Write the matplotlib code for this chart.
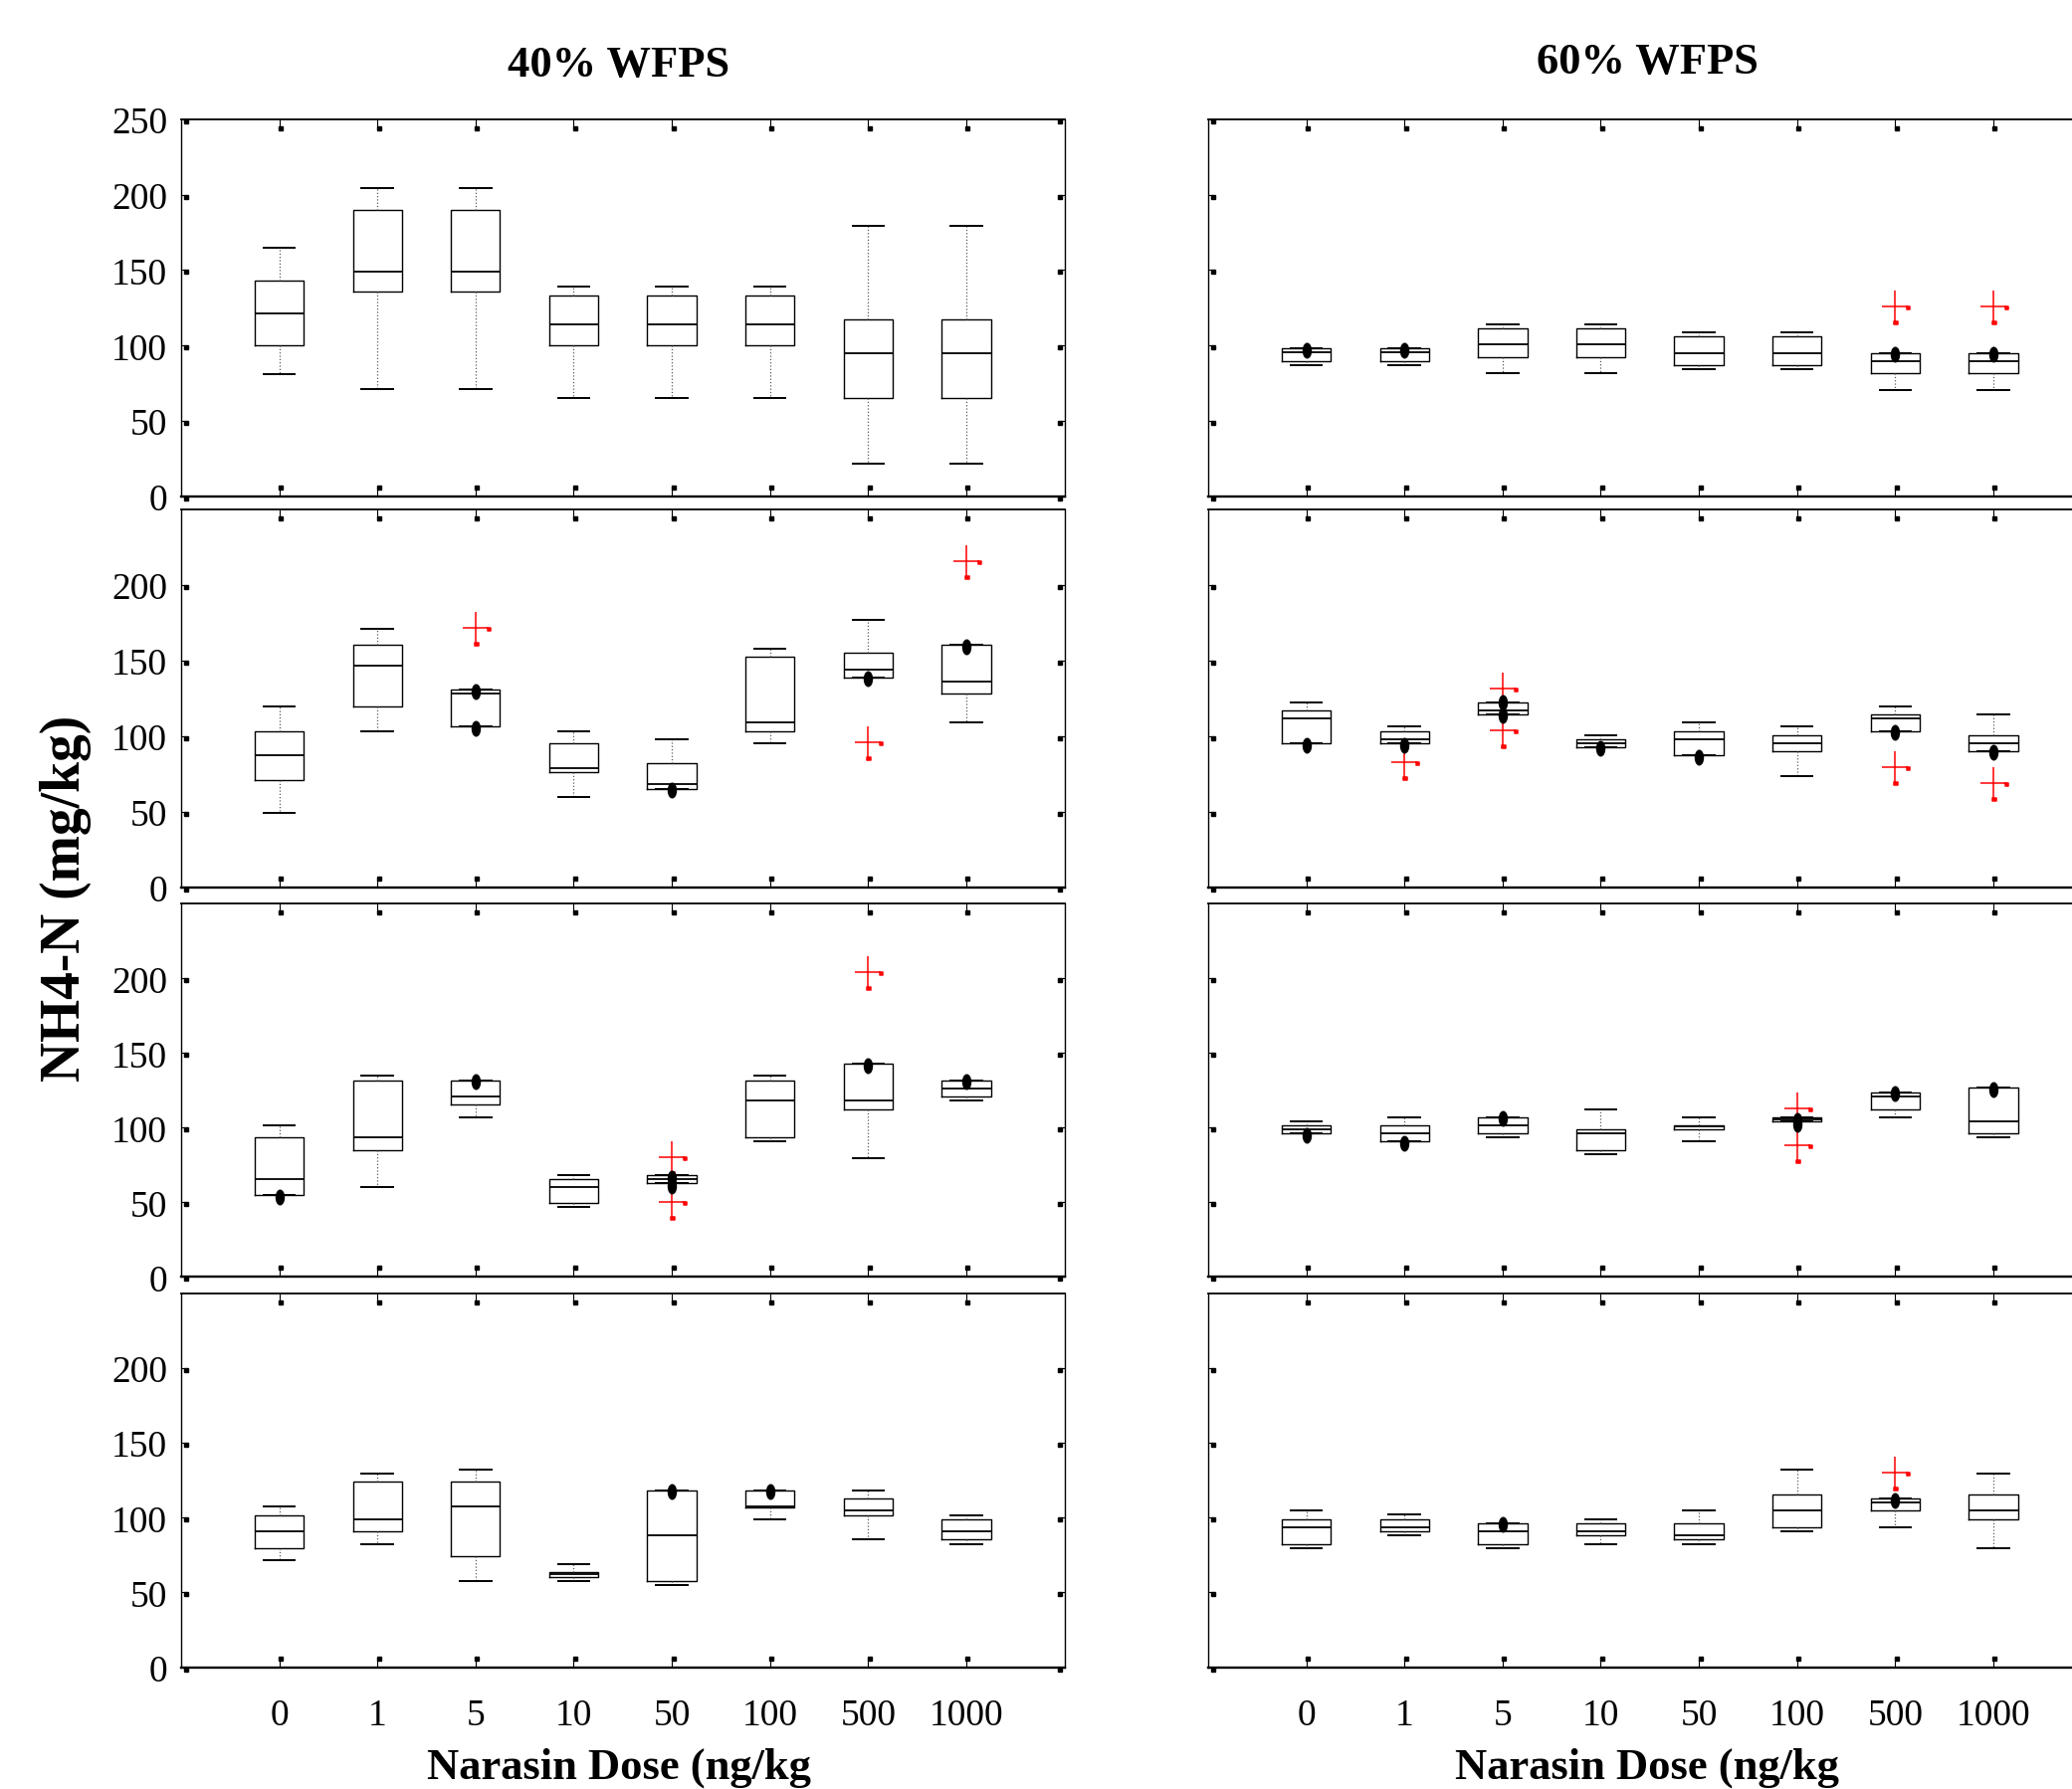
import numpy as np
import matplotlib
matplotlib.use('Agg')
import matplotlib.pyplot as plt
from matplotlib.path import Path
from matplotlib.transforms import Affine2D, ScaledTranslation

doses = ['0', '1', '5', '10', '50', '100', '500', '1000']

# each panel: whisker high, q3, median, q1, whisker low (mg/kg)
p40_1 = [[165, 204, 204, 139, 139, 139, 179, 179],
         [143, 190, 190, 133, 133, 133, 117, 117],
         [121, 149, 149, 114, 114, 114, 95, 95],
         [100, 136, 136, 100, 100, 100, 65, 65],
         [81, 71, 71, 65, 65, 65, 22, 22]]
p60_1 = [[98.3, 98.3, 114.3, 114.3, 108.8, 108.8, 95.2, 95.2],
         [98.3, 98.3, 111.5, 111.5, 106, 106, 95.2, 95.2],
         [95.4, 95.4, 100.7, 100.7, 95.2, 95.2, 89.7, 89.7],
         [89.7, 89.7, 92.3, 92.3, 86.9, 86.9, 81.6, 81.6],
         [87, 87, 81.6, 81.6, 84.4, 84.4, 70.8, 70.8]]
p40_2 = [[119.7, 171, 130.7, 103.3, 97.8, 157.7, 176.8, 160.3],
         [103.3, 160.3, 130.7, 95.2, 81.8, 152.2, 155, 160.3],
         [87.1, 146.7, 127.9, 78.9, 68, 108.8, 144, 136],
         [70.6, 119.7, 106.1, 76.1, 65.1, 103.3, 138.6, 127.9],
         [48.9, 103.3, 106.1, 59.9, 65.1, 95.2, 138.6, 108.8]]
p60_2 = [[122.4, 106.1, 122.4, 100.7, 108.8, 106.1, 119.7, 114.3],
         [116.9, 103.3, 122.4, 97.8, 103.3, 100.7, 114.3, 100.7],
         [111.4, 97.8, 116.9, 95.2, 97.8, 95.2, 111.4, 95.2],
         [95.2, 95.2, 114.3, 92.3, 87.1, 89.7, 103.3, 89.7],
         [95.2, 95.2, 114.3, 92.3, 87.1, 73.5, 103.3, 89.7]]
p40_3 = [[101.8, 134.7, 131.8, 68.4, 68.4, 134.7, 142.9, 131.8],
         [93.3, 131.8, 131.8, 65.8, 68.4, 131.8, 142.9, 131.8],
         [65.8, 93.3, 120.9, 60.4, 65.8, 118, 118, 126.4],
         [54.7, 85.1, 115.3, 49.3, 63.1, 93.3, 112.4, 120.9],
         [54.7, 60.4, 107.1, 46.7, 63.1, 90.7, 79.6, 118]]
p60_3 = [[104.4, 107.1, 107.1, 112.4, 107.1, 107.1, 123.8, 126.7],
         [101.8, 101.8, 107.1, 98.9, 101.8, 107.1, 123.8, 126.7],
         [98.9, 96.2, 101.8, 96.2, 100.7, 105.5, 121.1, 104.4],
         [96.2, 90.7, 96.2, 85.1, 98.9, 104.4, 112.4, 96.2],
         [96.2, 90.7, 93.3, 82.4, 90.7, 104.4, 107.1, 93.3]]
p40_4 = [[107.5, 129.5, 132.1, 68.7, 118.4, 118.4, 118.4, 101.7],
         [101.7, 123.9, 123.9, 63.4, 118.4, 118.4, 112.8, 99],
         [91, 99, 107.5, 62.3, 88.1, 107.5, 104.8, 91],
         [79.9, 91, 74.3, 60.5, 57.6, 107, 101.7, 85.4],
         [71.6, 82.5, 57.6, 57.6, 54.9, 99, 85.4, 82.5]]
p60_4 = [[104.8, 101.9, 96.3, 99, 104.8, 132.1, 112.8, 129.5],
         [99, 99, 96.3, 96.3, 96.3, 115.7, 112.8, 115.7],
         [93.7, 93.7, 90.8, 90.8, 88.1, 104.8, 110.1, 104.8],
         [82.5, 90.8, 82.5, 88.1, 85.4, 93.7, 104.8, 99],
         [79.9, 88.1, 79.9, 82.5, 82.5, 90.8, 93.7, 79.9]]

# outliers (red +) and individual points (black), as (dose index, value)
out40_1 = []
out60_1 = [(6, 125), (7, 125)]
out40_2 = [(2, 171), (6, 95.2), (7, 214.7)]
out60_2 = [(1, 81.8), (2, 130.5), (2, 103.3), (6, 78.9), (7, 68)]
out40_3 = [(4, 79.6), (4, 49.3), (6, 203.3)]
out60_3 = [(5, 112.4), (5, 87.8)]
out40_4 = []
out60_4 = [(6, 129.5)]

pts40_1 = []
pts60_1 = [(0, 96.7), (1, 96.7), (6, 94.5), (7, 94.5)]
pts40_2 = [(2, 129.4), (2, 104.8), (4, 64), (6, 137.7), (7, 159.2)]
pts60_2 = [(0, 93.9), (1, 93.9), (2, 122.4), (2, 113.6), (3, 91.7), (4, 86.2), (6, 102.6), (7, 89)]
pts40_3 = [(0, 53.6), (2, 130.7), (4, 66), (4, 61), (6, 141.8), (7, 130.7)]
pts60_3 = [(0, 95.1), (1, 89.6), (2, 106), (5, 105), (5, 102), (6, 122.9), (7, 125.6)]
pts40_4 = [(4, 117.5), (5, 117.5)]
pts60_4 = [(2, 95.2), (6, 111.2)]

panels40 = [(p40_1, out40_1, pts40_1), (p40_2, out40_2, pts40_2),
            (p40_3, out40_3, pts40_3), (p40_4, out40_4, pts40_4)]
panels60 = [(p60_1, out60_1, pts60_1), (p60_2, out60_2, pts60_2),
            (p60_3, out60_3, pts60_3), (p60_4, out60_4, pts60_4)]

plt.rcParams['font.family'] = ['Liberation Serif', 'DejaVu Serif']

# red plus marker with the little square artefacts of the original
sq = 0.09
verts = [(0, -1), (0, 1), (-0.8, 0.05), (0.8, 0.05)]
codes = [Path.MOVETO, Path.LINETO, Path.MOVETO, Path.LINETO]
for cx, cy in [(0.82, -0.05), (0.06, -0.95)]:
    verts += [(cx - sq, cy - sq), (cx + sq, cy - sq), (cx + sq, cy + sq), (cx - sq, cy + sq), (cx - sq, cy - sq)]
    codes += [Path.MOVETO, Path.LINETO, Path.LINETO, Path.LINETO, Path.CLOSEPOLY]
plus_marker = Path(verts, codes)
dot_marker = Path.unit_circle().transformed(Affine2D().scale(0.55, 1))

fig = plt.figure(figsize=(20.82, 17.99), dpi=100)

rows_y = [(0.7221, 0.2108), (0.5038, 0.2112), (0.2861, 0.2084), (0.0680, 0.2090)]
cols_x = [0.0874, 0.5831]
ax_w = 0.4263


def tick_squares(ax, yt):
    # small square blobs at the inner ends of the ticks
    xs = np.arange(1, 9)
    kw = dict(linestyle='none', marker='s', markersize=2.6, color='black', clip_on=False)
    for yy, dy in [(0, 9), (1, -9)]:
        tr = ax.get_xaxis_transform() + ScaledTranslation(1.5 / 100, dy / 100, fig.dpi_scale_trans)
        ax.plot(xs, [yy] * len(xs), transform=tr, **kw)
    for xx, dx in [(0, 5), (1, -5)]:
        tr = ax.get_yaxis_transform() + ScaledTranslation(dx / 100, -2 / 100, fig.dpi_scale_trans)
        ax.plot([xx] * len(yt), yt, transform=tr, **kw)


def draw_panel(ax, box, outl, pts, show_ylab, show_xlab, show250):
    hi, q3, med, q1, lo = box
    stats = []
    for i in range(len(doses)):
        fl = [v for (k, v) in outl if k == i]
        stats.append(dict(med=med[i], q1=q1[i], q3=q3[i], whislo=lo[i], whishi=hi[i], fliers=fl))
    ax.bxp(stats, positions=np.arange(1, 9), widths=0.5, capwidths=0.32,
           boxprops=dict(color='black', linewidth=1.0),
           medianprops=dict(color='black', linewidth=1.3),
           whiskerprops=dict(color='0.35', linewidth=0.9, linestyle=':'),
           capprops=dict(color='black', linewidth=1.4),
           flierprops=dict(marker=plus_marker, markersize=25, markerfacecolor='red',
                           markeredgecolor='red', markeredgewidth=1.1, linestyle='none'),
           manage_ticks=False)
    if pts:
        ax.plot([k + 1 for k, v in pts], [v for k, v in pts], linestyle='none',
                marker=dot_marker, markersize=10.5, color='black')
    ax.set_xlim(0, 9)
    ax.set_ylim(0, 250)
    ax.set_xticks(np.arange(1, 9))
    ax.set_xticklabels(doses if show_xlab else [])
    yt = [0, 50, 100, 150, 200, 250] if show250 else [0, 50, 100, 150, 200]
    ax.set_yticks(yt)
    ax.set_yticklabels([str(v) for v in yt] if show_ylab else [])
    ax.tick_params(direction='in', length=6.5, width=0.8, top=True, right=True,
                   labelsize=27, pad=10)
    ax.tick_params(axis='y', length=3)
    ax.tick_params(axis='x', pad=22)
    ax.spines['top'].set_linewidth(1.3)
    ax.spines['bottom'].set_linewidth(1.7)
    ax.spines['left'].set_linewidth(1.0)
    ax.spines['right'].set_linewidth(1.0)
    tick_squares(ax, yt)


for r in range(4):
    b, h = rows_y[r]
    for c, panels in enumerate([panels40, panels60]):
        ax = fig.add_axes([cols_x[c], b, ax_w, h])
        box, outl, pts = panels[r]
        draw_panel(ax, box, outl, pts, c == 0, r == 3, r == 0)

fig.text(0.2987, 0.9632, '40% WFPS', ha='center', va='center', fontsize=32, fontweight='bold')
fig.text(0.795, 0.9652, '60% WFPS', ha='center', va='center', fontsize=32, fontweight='bold')
fig.text(0.0317, 0.498, 'NH4-N (mg/kg)', ha='center', va='center', rotation=90,
         fontsize=40, fontweight='bold')
fig.text(0.2987, 0.0125, 'Narasin Dose (ng/kg', ha='center', va='center', fontsize=32, fontweight='bold')
fig.text(0.795, 0.0125, 'Narasin Dose (ng/kg', ha='center', va='center', fontsize=32, fontweight='bold')

fig.savefig('out.png', dpi=100)
